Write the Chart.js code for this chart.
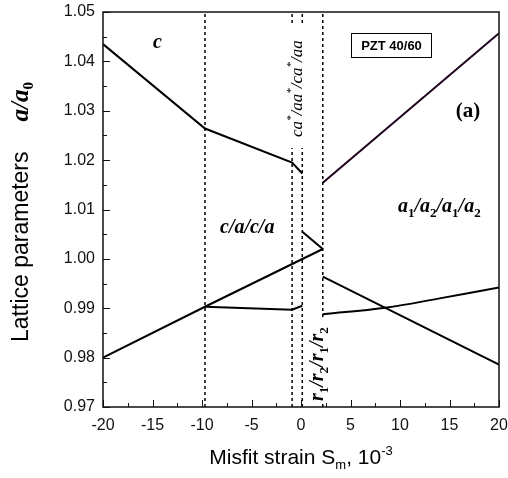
<!DOCTYPE html>
<html>
<head>
<meta charset="utf-8">
<script src="https://cdn.jsdelivr.net/npm/chart.js@4"></script>
<style>
  body { margin: 0; background: #fff; }
  #wrap { width: 508px; height: 478px; }
</style>
</head>
<body>
<div id="wrap"><canvas id="latticeChart"></canvas></div>
<script>
'use strict'

// Axis ticks
var xMajorTicks = [-20, -15, -10, -5, 0, 5, 10, 15, 20];
var xMinorTicks = [-17.5, -12.5, -7.5, -2.5, 2.5, 7.5, 12.5, 17.5];
var yMajorTicks = [0.97, 0.98, 0.99, 1.00, 1.01, 1.02, 1.03, 1.04, 1.05];
var yMinorTicks = [0.975, 0.985, 0.995, 1.005, 1.015, 1.025, 1.035, 1.045];

// Phase boundaries (dashed verticals)
var boundaries = [-9.7, -0.9, 0.13, 2.2];

// c branch and ca*/aa* part
var cX = [-20, -9.7, -0.9, 0.13];
var cY = [1.0435, 1.0264, 1.0195, 1.0173];

// a1/a2 upper branch
var a1UpX = [2.2, 20];
var a1UpY = [1.0154, 1.0457];

// rising a branch (c/a/c/a)
var aRiseX = [-20, -9.7, 2.2];
var aRiseY = [0.98, 0.9903, 1.002];

// flat a branch
var aFlatX = [-9.7, -0.9, 0.13];
var aFlatY = [0.9903, 0.9897, 0.9905];

// r1/r2 piece
var rX = [0.13, 2.2];
var rY = [1.0055, 1.002];

// a1/a2 lower branches
var a1LowX = [2.2, 8.5, 14, 20];
var a1LowY = [0.9888, 0.9901, 0.9920, 0.9942];
var a1FallX = [2.2, 20];
var a1FallY = [0.9964, 0.9786];

function pts(xs, ys) {
  return xs.map(function(x, i) { return { x: x, y: ys[i] }; });
}

function solid(xs, ys, color, tension) {
  return {
    data: pts(xs, ys),
    showLine: true,
    borderColor: color || '#000',
    borderWidth: 2,
    pointRadius: 0,
    tension: tension || 0,
    fill: false
  };
}

var sans = '"Liberation Sans", Arial, sans-serif';
var serif = '"Liberation Serif", "Times New Roman", serif';

// Draw text made of runs (font, offset, optional extra gap)
function drawRuns(ctx, runs, x, y, align) {
  var total = 0;
  runs.forEach(function(r) {
    ctx.font = r.f;
    r.w = ctx.measureText(r.t).width + (r.gap || 0);
    total += r.w;
  });
  var cx = x;
  if (align === 'center') cx = x - total / 2;
  runs.forEach(function(r) {
    ctx.font = r.f;
    ctx.fillText(r.t, cx, y + (r.dy || 0));
    cx += r.w;
  });
}

var decorations = {
  id: 'decorations',
  afterDatasetsDraw: function(chart) {
    var ctx = chart.ctx;
    var area = chart.chartArea;
    var xs = chart.scales.x, ys = chart.scales.y;
    ctx.save();
    ctx.fillStyle = '#fff';
    // white patches behind rotated labels
    ctx.fillRect(286, 23, 20, 125);
    ctx.fillRect(313, 318, 17, 86);

    ctx.fillStyle = '#000';
    ctx.textBaseline = 'alphabetic';
    ctx.textAlign = 'left';

    var bi = 'bold italic 20px ' + serif;
    var sub = 'bold 13px ' + serif;
    drawRuns(ctx, [{ t: 'c', f: bi }], 153, 48);
    drawRuns(ctx, [{ t: 'c/a/c/a', f: bi }], 220, 233);
    drawRuns(ctx, [
      { t: 'a', f: bi }, { t: '1', f: sub, dy: 5 }, { t: '/a', f: bi }, { t: '2', f: sub, dy: 5 },
      { t: '/a', f: bi }, { t: '1', f: sub, dy: 5 }, { t: '/a', f: bi }, { t: '2', f: sub, dy: 5 }
    ], 398, 212);
    drawRuns(ctx, [{ t: '(a)', f: 'bold 21px ' + serif }], 468, 117, 'center');

    // PZT box
    ctx.lineWidth = 1;
    ctx.strokeStyle = '#000';
    ctx.strokeRect(351.5, 33.5, 80, 24);
    ctx.textBaseline = 'middle';
    drawRuns(ctx, [{ t: 'PZT 40/60', f: 'bold 13px ' + sans }], 391.5, 46, 'center');
    ctx.textBaseline = 'alphabetic';

    // rotated phase labels
    var it = 'italic 17px ' + serif;
    var star = 'italic 11px ' + serif;
    ctx.save();
    ctx.translate(302, 137);
    ctx.rotate(-Math.PI / 2);
    drawRuns(ctx, [
      { t: 'ca', f: it }, { t: '*', f: star, dy: -8 }, { t: '/aa', f: it }, { t: '*', f: star, dy: -8 },
      { t: '/ca', f: it }, { t: '*', f: star, dy: -8 }, { t: '/aa', f: it }
    ], 0, 0);
    ctx.restore();

    ctx.save();
    ctx.translate(323, 401);
    ctx.rotate(-Math.PI / 2);
    drawRuns(ctx, [
      { t: 'r', f: bi }, { t: '1', f: sub, dy: 5 }, { t: '/r', f: bi }, { t: '2', f: sub, dy: 5 },
      { t: '/r', f: bi }, { t: '1', f: sub, dy: 5 }, { t: '/r', f: bi }, { t: '2', f: sub, dy: 5 }
    ], 0, 0);
    ctx.restore();

    // frame
    ctx.strokeStyle = '#111';
    ctx.lineWidth = 1.5;
    ctx.strokeRect(area.left, area.top, area.right - area.left, area.bottom - area.top);

    // inward ticks
    ctx.lineWidth = 1;
    ctx.beginPath();
    xMajorTicks.forEach(function(v) { var p = Math.round(xs.getPixelForValue(v)) + 0.5; ctx.moveTo(p, area.bottom); ctx.lineTo(p, area.bottom - 7); });
    xMinorTicks.forEach(function(v) { var p = Math.round(xs.getPixelForValue(v)) + 0.5; ctx.moveTo(p, area.bottom); ctx.lineTo(p, area.bottom - 4); });
    yMajorTicks.forEach(function(v) { var p = Math.round(ys.getPixelForValue(v)) + 0.5; ctx.moveTo(area.left, p); ctx.lineTo(area.left + 7, p); });
    yMinorTicks.forEach(function(v) { var p = Math.round(ys.getPixelForValue(v)) + 0.5; ctx.moveTo(area.left, p); ctx.lineTo(area.left + 4, p); });
    ctx.stroke();

    // axis titles
    ctx.fillStyle = '#000';
    drawRuns(ctx, [
      { t: 'Misfit strain S', f: '21px ' + sans }, { t: 'm', f: '13px ' + sans, dy: 5 },
      { t: ', 10', f: '21px ' + sans }, { t: '-3', f: '13px ' + sans, dy: -9 }
    ], 301, 464, 'center');

    ctx.save();
    ctx.translate(28, 212);
    ctx.rotate(-Math.PI / 2);
    drawRuns(ctx, [
      { t: 'Lattice parameters', f: '23px ' + sans, gap: 30 }, { t: 'a/a', f: 'bold italic 25px ' + serif },
      { t: '0', f: 'bold 15px ' + serif, dy: 5 }
    ], 0, 0, 'center');
    ctx.restore();

    ctx.restore();
  }
};

var datasets = boundaries.map(function(b) {
  return {
    data: pts([b, b], [0.97, 1.05]),
    showLine: true,
    borderColor: '#000',
    borderWidth: 1.5,
    borderDash: [3, 3],
    pointRadius: 0,
    fill: false
  };
});

datasets.push(solid(cX, cY));
datasets.push(solid(a1UpX, a1UpY, '#1a001a'));
datasets.push(solid(aRiseX, aRiseY));
datasets.push(solid(aFlatX, aFlatY));
datasets.push(solid(rX, rY));
datasets.push(solid(a1LowX, a1LowY, '#000', 0.4));
datasets.push(solid(a1FallX, a1FallY));

var tickFont = { family: sans, size: 16 };

new Chart(document.getElementById('latticeChart'), {
  type: 'scatter',
  data: { datasets: datasets },
  plugins: [decorations],
  options: {
    responsive: true,
    maintainAspectRatio: false,
    animation: false,
    layout: { padding: { left: 0, right: 9, top: 12, bottom: 0 } },
    plugins: { legend: { display: false }, tooltip: { enabled: false } },
    scales: {
      x: {
        type: 'linear',
        min: -20,
        max: 20,
        grid: { display: false, drawTicks: false },
        border: { display: false },
        ticks: { font: tickFont, color: '#111', padding: 9, maxRotation: 0 },
        afterBuildTicks: function(s) { s.ticks = xMajorTicks.map(function(v) { return { value: v }; }); },
        afterFit: function(s) { s.height = 71; s.paddingLeft = 0; s.paddingRight = 0; }
      },
      y: {
        type: 'linear',
        min: 0.97,
        max: 1.05,
        grid: { display: false, drawTicks: false },
        border: { display: false },
        ticks: {
          font: tickFont, color: '#111', padding: 8,
          callback: function(v) { return Number(v).toFixed(2); }
        },
        afterBuildTicks: function(s) { s.ticks = yMajorTicks.map(function(v) { return { value: v }; }); },
        afterFit: function(s) { s.width = 103; s.paddingTop = 0; s.paddingBottom = 0; }
      }
    }
  }
});
</script>
</body>
</html>
